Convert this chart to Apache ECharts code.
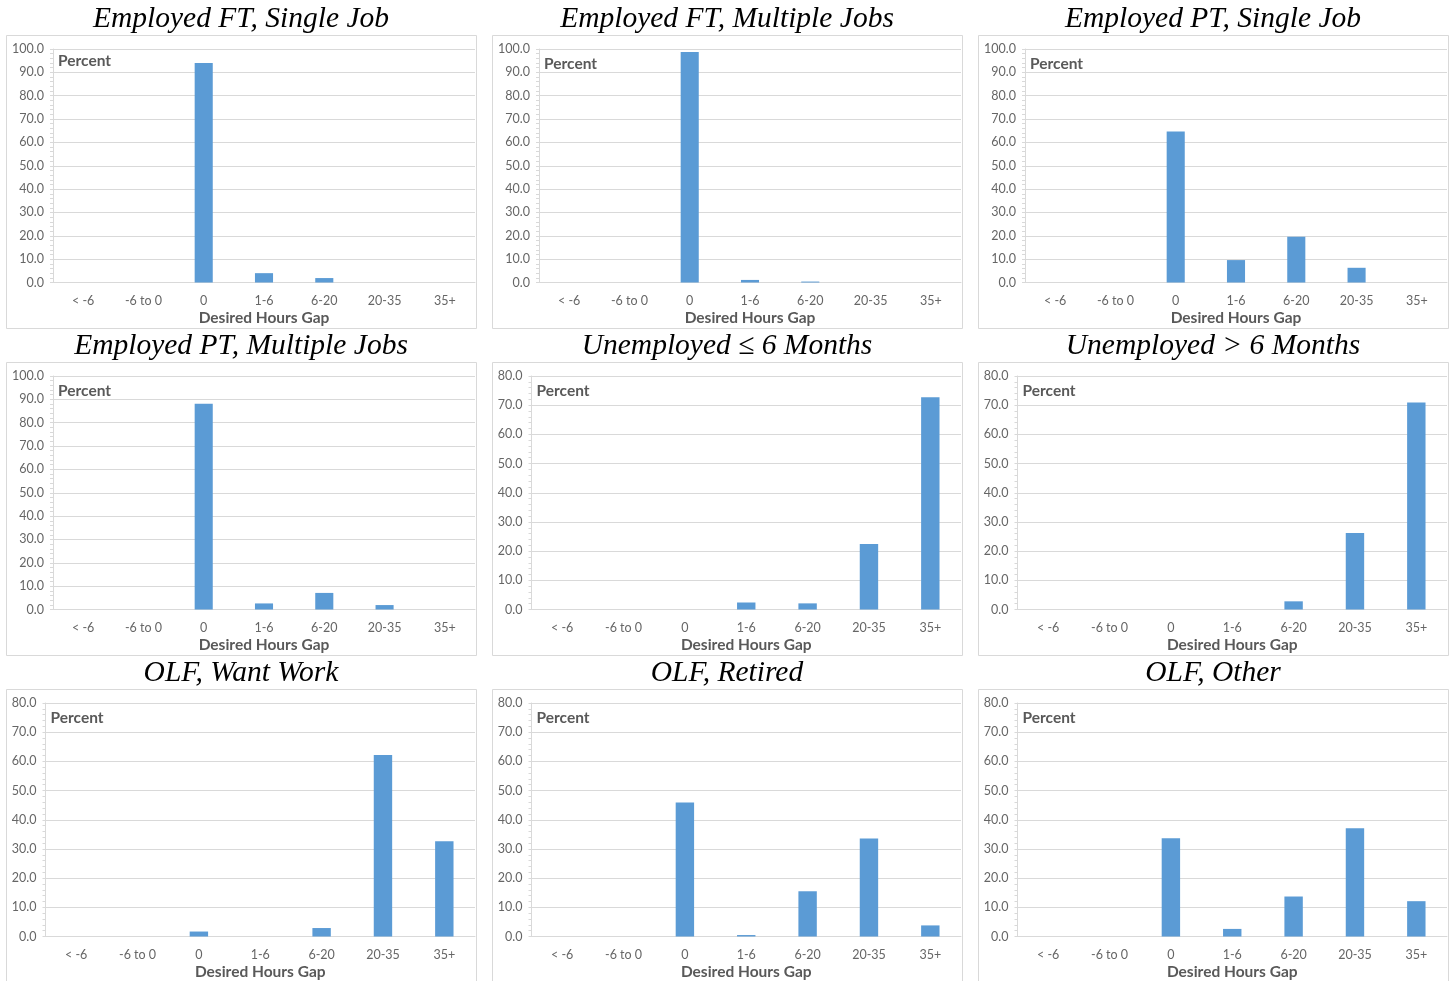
<!DOCTYPE html>
<html><head><meta charset="utf-8">
<script src="https://cdn.jsdelivr.net/npm/echarts@6/dist/echarts.min.js"></script>
<style>html,body{margin:0;padding:0;background:#fff}#c{width:1452px;height:981px}</style>
</head><body><div id="c"></div>
<script>
const categories = ['< -6', '-6 to 0', '0', '1-6', '6-20', '20-35', '35+'];
const panelTitles = ['Employed FT, Single Job', 'Employed FT, Multiple Jobs', 'Employed PT, Single Job',
  'Employed PT, Multiple Jobs', 'Unemployed \u2264 6 Months', 'Unemployed > 6 Months',
  'OLF, Want Work', 'OLF, Retired', 'OLF, Other'];
const empFTSingle   = [0, 0, 94.0, 4.0, 1.9, 0, 0];
const empFTMultiple = [0, 0, 98.7, 1.1, 0.4, 0, 0];
const empPTSingle   = [0, 0, 64.7, 9.6, 19.6, 6.3, 0];
const empPTMultiple = [0, 0, 88.1, 2.6, 7.1, 1.9, 0];
const unempShort    = [0, 0, 0, 2.4, 2.1, 22.4, 72.7];
const unempLong     = [0, 0, 0, 0, 2.8, 26.2, 70.9];
const olfWantWork   = [0, 0, 1.7, 0, 2.9, 62.2, 32.6];
const olfRetired    = [0, 0, 45.9, 0.5, 15.5, 33.6, 3.8];
const olfOther      = [0, 0, 33.7, 2.6, 13.7, 37.1, 12.1];
const panelValues = [empFTSingle, empFTMultiple, empPTSingle, empPTMultiple, unempShort, unempLong, olfWantWork, olfRetired, olfOther];
const yMaxes = [100, 100, 100, 100, 80, 80, 80, 80, 80];
const yInterval = 10;
const yAxisLabel = 'Percent';
const xAxisLabel = 'Desired Hours Gap';

const boxX = [6, 492, 978], boxY = [35, 362, 689], boxW = 470, boxH = 293;
const grey = '#595959', tickGrey = '#666666', lineGrey = '#d9d9d9', barColor = '#5b9bd5';
const sans = 'Lato, "Open Sans", sans-serif';

const grids = [], xAxes = [], yAxes = [], series = [], graphics = [];
for (let i = 0; i < 9; i++) {
  const r = Math.floor(i / 3), c = i % 3;
  const bx = boxX[c], by = boxY[r];
  const off = yMaxes[i] === 100 ? 47 : 39.5;
  const gl = bx + off, gt = by + 14, gw = boxW - off - 1, gh = 233.5;
  grids.push({left: gl, top: gt, width: gw, height: gh, containLabel: false});
  xAxes.push({
    type: 'category', gridIndex: i, data: categories,
    axisTick: {show: false},
    axisLine: {lineStyle: {color: lineGrey, width: 1}},
    axisLabel: {color: tickGrey, fontSize: 12.5, fontFamily: sans, margin: 12},
    name: xAxisLabel, nameLocation: 'middle', nameGap: 27,
    nameTextStyle: {color: grey, fontSize: 15.5, fontWeight: 'bold', fontFamily: sans}
  });
  yAxes.push({
    type: 'value', gridIndex: i, min: 0, max: yMaxes[i], interval: yInterval,
    axisLine: {show: true, lineStyle: {color: lineGrey}},
    axisTick: {show: true, length: 3, lineStyle: {color: lineGrey}},
    minorTick: {show: true, splitNumber: 5, length: 3, lineStyle: {color: lineGrey}},
    splitLine: {lineStyle: {color: lineGrey}},
    axisLabel: {color: tickGrey, fontSize: 12.5, fontFamily: sans, margin: 9, formatter: v => v.toFixed(1)}
  });
  series.push({
    type: 'bar', xAxisIndex: i, yAxisIndex: i, data: panelValues[i],
    barWidth: '30%', itemStyle: {color: barColor}, silent: true
  });
  graphics.push({type: 'rect', shape: {x: bx + 0.5, y: by + 0.5, width: boxW, height: boxH},
    style: {fill: 'none', stroke: lineGrey, lineWidth: 1}, silent: true});
  graphics.push({type: 'text', x: bx + boxW / 2, y: by - 16,
    style: {text: panelTitles[i], textAlign: 'center', textVerticalAlign: 'middle',
      font: 'italic 29.5px "Liberation Serif", "Times New Roman", serif', fill: '#000'}});
  graphics.push({type: 'text', x: gl + 5, y: gt + (i === 0 ? 12 : 15),
    style: {text: yAxisLabel, textAlign: 'left', textVerticalAlign: 'middle',
      font: 'bold 15.5px ' + sans, fill: grey}});
}

const chart = echarts.init(document.getElementById('c'));
chart.setOption({
  animation: false,
  backgroundColor: '#fff',
  grid: grids, xAxis: xAxes, yAxis: yAxes, series: series, graphic: graphics
});
</script></body></html>
